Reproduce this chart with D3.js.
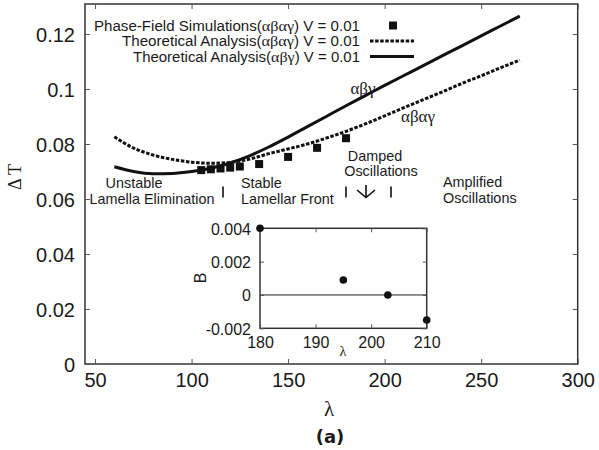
<!DOCTYPE html>
<html>
<head>
<meta charset="utf-8">
<script src="https://cdn.jsdelivr.net/npm/d3@7/dist/d3.min.js"></script>
<style>
  html, body { margin: 0; padding: 0; background: #fff; }
  svg { display: block; }
  text { font-family: "Liberation Sans", Arial, sans-serif; fill: #1a1a1a; }
  .greek { font-family: "Liberation Serif", "Times New Roman", serif; }
</style>
</head>
<body>
<svg id="chart" width="599" height="450"></svg>
<script>
// ---------------- data ----------------
const THEORY_LAMBDA = [60, 70, 80, 90, 100, 110, 120, 130, 140, 150, 160, 170, 180, 190, 200, 210, 220, 230, 240, 250, 260, 270];
const THEORY_ABG   = [0.0717, 0.0700, 0.0692, 0.0693, 0.0700, 0.0712, 0.0731, 0.0757, 0.0789, 0.0825, 0.0863, 0.0901, 0.0939, 0.0976, 0.1013, 0.1049, 0.1085, 0.1121, 0.1157, 0.1193, 0.1229, 0.1265];
const THEORY_ABAG  = [0.0826, 0.0785, 0.0760, 0.0744, 0.0734, 0.0730, 0.0733, 0.0745, 0.0765, 0.0782, 0.0800, 0.0822, 0.0846, 0.0873, 0.0902, 0.0932, 0.0961, 0.0990, 0.1020, 0.1048, 0.1077, 0.1105];
const PF_LAMBDA = [105, 110, 115, 120, 125, 135, 150, 165, 180];
const PF_DT     = [0.0705, 0.0708, 0.0711, 0.0714, 0.0718, 0.0727, 0.0753, 0.0786, 0.0821];
const INSET_LAMBDA = [180, 195, 203, 210];
const INSET_B      = [0.004, 0.0009, 0.0000, -0.0015];
const X_TICKS = [50, 100, 150, 200, 250, 300];
const Y_TICKS = [0, 0.02, 0.04, 0.06, 0.08, 0.1, 0.12];
const INSET_X_TICKS = [180, 190, 200, 210];
const INSET_Y_TICKS = [-0.002, 0, 0.002, 0.004];
const LEGEND_LABELS = [
  ["Phase-Field Simulations(", "αβαγ", ") V = 0.01"],
  ["Theoretical Analysis(", "αβαγ", ") V = 0.01"],
  ["Theoretical Analysis(", "αβγ", ") V = 0.01"]
];
const REGION_LABELS = [
  ["Unstable", "Lamella Elimination"],
  ["Stable", "Lamellar Front"],
  ["Damped", "Oscillations"],
  ["Amplified", "Oscillations"]
];

// ---------------- layout ----------------
const svg = d3.select("#chart");
const M = { left: 85, right: 577.7, top: 4, bottom: 364 };
const x = d3.scaleLinear().domain([44.8, 300]).range([M.left, M.right]);
const y = d3.scaleLinear().domain([0, 0.1309]).range([M.bottom, M.top]);
const ink = "#111";

// frame
svg.append("rect").attr("x", M.left).attr("y", M.top)
  .attr("width", M.right - M.left).attr("height", M.bottom - M.top)
  .attr("fill", "none").attr("stroke", "#333").attr("stroke-width", 1.5);

// axes (gnuplot-like inward ticks, mirrored)
const tickLen = 5;
const gx = svg.append("g").attr("transform", `translate(0,${M.bottom})`)
  .call(d3.axisBottom(x).tickValues(X_TICKS).tickSize(-tickLen).tickPadding(8).tickFormat(d3.format("d")));
const gxt = svg.append("g").attr("transform", `translate(0,${M.top})`)
  .call(d3.axisTop(x).tickValues(X_TICKS).tickSize(-tickLen).tickFormat(""));
const gy = svg.append("g").attr("transform", `translate(${M.left},0)`)
  .call(d3.axisLeft(y).tickValues(Y_TICKS).tickSize(-tickLen).tickPadding(10).tickFormat(d => d === 0 ? "0" : String(d)));
const gyr = svg.append("g").attr("transform", `translate(${M.right},0)`)
  .call(d3.axisRight(y).tickValues(Y_TICKS).tickSize(-tickLen).tickFormat(""));
[gx, gxt, gy, gyr].forEach(g => {
  g.select(".domain").remove();
  g.selectAll(".tick line").attr("stroke", "#555").attr("stroke-width", 1);
  g.selectAll(".tick text").attr("font-size", 20).attr("font-family", "Liberation Sans, Arial, sans-serif").attr("fill", "#1a1a1a");
});
gy.selectAll(".tick text").attr("dy", "0.36em");
gx.selectAll(".tick text").attr("dy", "0.75em");

// axis titles
svg.append("text").attr("class", "greek").attr("x", 329).attr("y", 416)
  .attr("text-anchor", "middle").attr("font-size", 21).text("λ");
svg.append("text").attr("transform", "translate(21,177) rotate(-90)")
  .attr("class", "greek").attr("text-anchor", "middle").attr("font-size", 18).text("Δ T");
svg.append("text").attr("x", 330).attr("y", 443).attr("text-anchor", "middle")
  .attr("font-weight", "bold").attr("font-size", 18)
  .style("font-family", "'DejaVu Sans', sans-serif").text("(a)");

// curves
const lineGen = d3.line().x(d => x(d[0])).y(d => y(d[1])).curve(d3.curveMonotoneX);
const abg = THEORY_LAMBDA.map((l, i) => [l, THEORY_ABG[i]]);
const abag = THEORY_LAMBDA.map((l, i) => [l, THEORY_ABAG[i]]);
svg.append("path").attr("d", lineGen(abag)).attr("fill", "none")
  .attr("stroke", ink).attr("stroke-width", 3).attr("stroke-dasharray", "3.5,1.6");
svg.append("path").attr("d", lineGen(abg)).attr("fill", "none")
  .attr("stroke", ink).attr("stroke-width", 3);

// phase-field squares
const sq = 8;
svg.append("g").selectAll("rect").data(PF_LAMBDA.map((l, i) => [l, PF_DT[i]])).join("rect")
  .attr("x", d => x(d[0]) - sq / 2).attr("y", d => y(d[1]) - sq / 2)
  .attr("width", sq).attr("height", sq).attr("fill", ink);

// curve labels
svg.append("text").attr("class", "greek").attr("x", 363).attr("y", 94)
  .attr("text-anchor", "middle").attr("font-size", 17).text("αβγ");
svg.append("text").attr("class", "greek").attr("x", 418).attr("y", 122)
  .attr("text-anchor", "middle").attr("font-size", 17).text("αβαγ");

// legend
const legY = [25.5, 41, 56.5];
const legLeft = [94, 122, 133];
const legRight = 360;
LEGEND_LABELS.forEach((parts, i) => {
  const t = svg.append("text").attr("x", legLeft[i]).attr("y", legY[i] + 5)
    .attr("font-size", 14)
    .attr("textLength", legRight - legLeft[i]).attr("lengthAdjust", "spacingAndGlyphs");
  t.append("tspan").text(parts[0]);
  t.append("tspan").attr("class", "greek").attr("font-size", 15).text(parts[1]);
  t.append("tspan").text(parts[2]);
});
svg.append("rect").attr("x", 393 - sq / 2).attr("y", legY[0] - sq / 2).attr("width", sq).attr("height", sq).attr("fill", ink);
svg.append("line").attr("x1", 370).attr("x2", 414).attr("y1", legY[1]).attr("y2", legY[1])
  .attr("stroke", ink).attr("stroke-width", 3).attr("stroke-dasharray", "3.5,1.6");
svg.append("line").attr("x1", 370).attr("x2", 414).attr("y1", legY[2]).attr("y2", legY[2])
  .attr("stroke", ink).attr("stroke-width", 3);

// region annotations (two lines each)
const regPos = [
  { x1: 134, x2: 152, y1: 183.3, y2: 198.9, anchor: "middle" },
  { x1: 241, x2: 241, y1: 183.3, y2: 198.9, anchor: "start" },
  { x1: 375, x2: 381, y1: 155.6, y2: 171.2, anchor: "middle" },
  { x1: 443, x2: 443, y1: 182.3, y2: 197.9, anchor: "start" }
];
REGION_LABELS.forEach((lines, i) => {
  const p = regPos[i];
  svg.append("text").attr("x", p.x1).attr("y", p.y1 + 5).attr("font-size", 14.4)
    .attr("text-anchor", p.anchor).text(lines[0]);
  svg.append("text").attr("x", p.x2).attr("y", p.y2 + 5).attr("font-size", 14.4)
    .attr("text-anchor", p.anchor).text(lines[1]);
});
// separators and arrow
[223, 346, 391].forEach(px => {
  svg.append("line").attr("x1", px).attr("x2", px).attr("y1", 186.5).attr("y2", 197.5)
    .attr("stroke", ink).attr("stroke-width", 1.6);
});
svg.append("path").attr("d", "M366,185 L366,197 M357,190 L366,197.5 L375,190")
  .attr("fill", "none").attr("stroke", ink).attr("stroke-width", 1.6);

// ---------------- inset ----------------
const I = { left: 260, right: 426.7, top: 228.3, bottom: 328.3 };
const xi = d3.scaleLinear().domain([180, 210]).range([I.left, I.right]);
const yi = d3.scaleLinear().domain([-0.002, 0.004]).range([I.bottom, I.top]);
svg.append("rect").attr("x", I.left).attr("y", I.top).attr("width", I.right - I.left)
  .attr("height", I.bottom - I.top).attr("fill", "none").attr("stroke", "#333").attr("stroke-width", 1.5);
svg.append("line").attr("x1", I.left).attr("x2", I.right).attr("y1", yi(0)).attr("y2", yi(0))
  .attr("stroke", "#222").attr("stroke-width", 1);
const itl = 4;
const ix = svg.append("g").attr("transform", `translate(0,${I.bottom})`)
  .call(d3.axisBottom(xi).tickValues(INSET_X_TICKS).tickSize(-itl).tickPadding(8).tickFormat(d3.format("d")));
const ixt = svg.append("g").attr("transform", `translate(0,${I.top})`)
  .call(d3.axisTop(xi).tickValues(INSET_X_TICKS).tickSize(-itl).tickFormat(""));
const iy = svg.append("g").attr("transform", `translate(${I.left},0)`)
  .call(d3.axisLeft(yi).tickValues(INSET_Y_TICKS).tickSize(-itl).tickPadding(9)
    .tickFormat(d => d === 0 ? "0" : d3.format(".3f")(d).replace("−", "-")));
const iyr = svg.append("g").attr("transform", `translate(${I.right},0)`)
  .call(d3.axisRight(yi).tickValues(INSET_Y_TICKS).tickSize(-itl).tickFormat(""));
[ix, ixt, iy, iyr].forEach(g => {
  g.select(".domain").remove();
  g.selectAll(".tick line").attr("stroke", "#555").attr("stroke-width", 1);
  g.selectAll(".tick text").attr("font-size", 16).attr("font-family", "Liberation Sans, Arial, sans-serif").attr("fill", "#1a1a1a");
});
iy.selectAll(".tick text").attr("dy", "0.36em");
svg.append("text").attr("class", "greek").attr("x", 343).attr("y", 356)
  .attr("text-anchor", "middle").attr("font-size", 14).text("λ");
svg.append("text").attr("transform", "translate(206,278) rotate(-90)")
  .attr("text-anchor", "middle").attr("font-size", 16).text("B");
svg.append("g").selectAll("circle").data(INSET_LAMBDA.map((l, i) => [l, INSET_B[i]])).join("circle")
  .attr("cx", d => xi(d[0])).attr("cy", d => yi(d[1])).attr("r", 3.8).attr("fill", ink);
</script>
</body>
</html>
